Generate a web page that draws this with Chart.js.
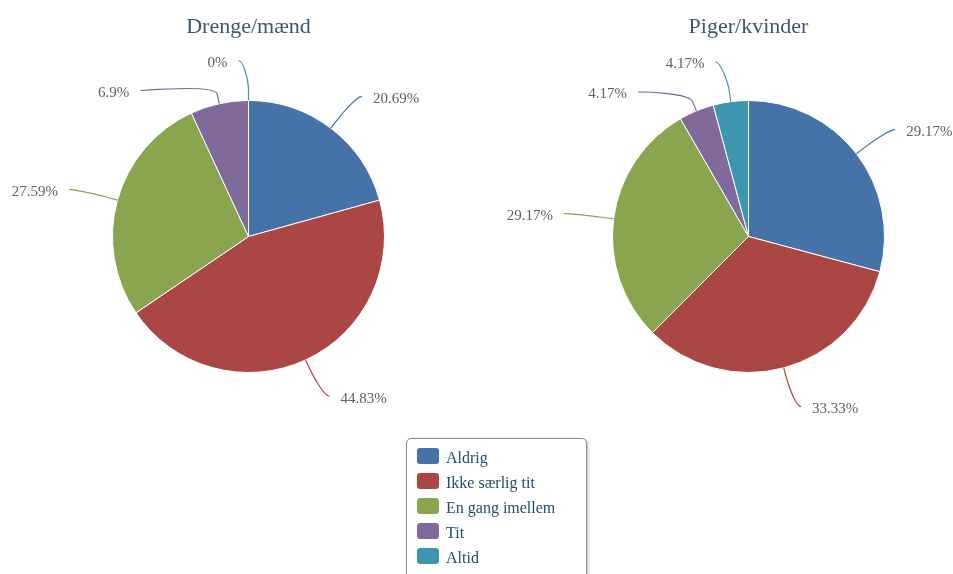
<!DOCTYPE html>
<html>
<head>
<meta charset="utf-8">
<script src="https://cdn.jsdelivr.net/npm/chart.js@4.4.0/dist/chart.umd.min.js"></script>
<style>
html,body{margin:0;padding:0;background:#fff;overflow:hidden;width:953px;height:574px;}
#wrap{position:relative;width:953px;height:574px;overflow:hidden;}
canvas{position:absolute;top:0;}
#c1{left:0;}
#c2{left:476px;}
#legend{position:absolute;left:406px;top:438px;width:179px;height:160px;border:1px solid #909090;border-radius:5px;box-shadow:1px 1px 3px rgba(0,0,0,0.28);background:#fff;font-family:"Liberation Serif","Times New Roman",serif;font-size:16px;color:#274b6d;}
.item{position:absolute;left:10px;height:16px;line-height:16px;white-space:nowrap;}
.sw{position:absolute;left:0;top:0;width:22px;height:16px;border-radius:3px;}
.tx{position:absolute;left:29px;top:2px;}
</style>
</head>
<body>
<div id="wrap">
  <canvas id="c1" width="476" height="437"></canvas>
  <canvas id="c2" width="477" height="437"></canvas>
  <div id="legend"></div>
</div>
<script>
// ---- data ----
const categories = ['Aldrig', 'Ikke særlig tit', 'En gang imellem', 'Tit', 'Altid'];
const boysValues = [20.69, 44.83, 27.59, 6.9, 0];
const girlsValues = [29.17, 33.33, 29.17, 4.17, 4.17];
const boysTitle = 'Drenge/mænd';
const girlsTitle = 'Piger/kvinder';
const colors = ['#4572A7', '#AA4643', '#89A54E', '#80699B', '#3D96AE'];

// ---- label + title plugin (Highcharts-like soft connectors) ----
const labelPlugin = {
  id: 'pieLabels',
  afterDatasetsDraw(chart, args, opts) {
    const ctx = chart.ctx;
    const meta = chart.getDatasetMeta(0);
    const ds = chart.data.datasets[0];
    const arcs = meta.data;
    if (!arcs.length) return;
    const cx = arcs[0].x, cy = arcs[0].y, r = arcs[0].outerRadius;
    const R = r + opts.distance;
    const items = arcs.map((a, i) => {
      const mid = (a.startAngle + a.endAngle) / 2;
      return { i, mid, left: mid > Math.PI / 2, y: cy + R * Math.sin(mid) };
    });
    [true, false].forEach(side => {
      const g = items.filter(it => it.left === side).sort((p, q) => p.y - q.y);
      for (let k = 1; k < g.length; k++) {
        if (g[k].y < g[k - 1].y + opts.gap) g[k].y = g[k - 1].y + opts.gap;
      }
    });
    ctx.save();
    items.forEach(it => {
      const cos = Math.cos(it.mid), sin = Math.sin(it.mid);
      const Cx = cx + r * cos, Cy = cy + r * sin;
      const Bx = cx + (r + 10) * cos, By = cy + (r + 10) * sin;
      const dy = it.y - cy;
      const dx = Math.sqrt(Math.max(R * R - dy * dy, 0));
      const xc = it.left ? cx - dx : cx + dx;
      const endX = it.left ? xc - 10 : xc + 7;
      const x1 = it.left ? endX + 5 : endX - 5;
      ctx.beginPath();
      ctx.moveTo(endX, it.y);
      ctx.bezierCurveTo(x1, it.y, 2 * Bx - Cx, 2 * By - Cy, Bx, By);
      ctx.lineTo(Cx, Cy);
      ctx.strokeStyle = ds.backgroundColor[it.i];
      ctx.lineWidth = 1.2;
      ctx.stroke();
      ctx.font = '15px "Liberation Serif", "Times New Roman", serif';
      ctx.fillStyle = '#606060';
      ctx.textBaseline = 'middle';
      ctx.textAlign = it.left ? 'right' : 'left';
      ctx.fillText(String(ds.data[it.i]) + '%', it.left ? endX - 11 : endX + 11, it.y + 2.5);
    });
    ctx.font = '22px "Liberation Serif", "Times New Roman", serif';
    ctx.fillStyle = '#3E576F';
    ctx.textAlign = 'center';
    ctx.textBaseline = 'middle';
    ctx.fillText(opts.title, cx, 27);
    ctx.restore();
  }
};

function makeChart(id, values, title, pad) {
  return new Chart(document.getElementById(id), {
    type: 'pie',
    data: {
      labels: categories,
      datasets: [{
        data: values,
        backgroundColor: colors,
        borderColor: '#ffffff',
        borderWidth: 1,
        radius: 136,
        hoverOffset: 0
      }]
    },
    options: {
      responsive: false,
      animation: false,
      events: [],
      layout: { padding: pad },
      plugins: {
        legend: { display: false },
        tooltip: { enabled: false },
        title: { display: false },
        pieLabels: { distance: 40, gap: 30, title: title }
      }
    },
    plugins: [labelPlugin]
  });
}

makeChart('c1', boysValues, boysTitle, { left: 98.5, right: 77.5, top: 86.5, bottom: 50.5 });
makeChart('c2', girlsValues, girlsTitle, { left: 122.5, right: 54.5, top: 86.5, bottom: 50.5 });

// ---- legend ----
const legend = document.getElementById('legend');
categories.forEach((c, i) => {
  const item = document.createElement('div');
  item.className = 'item';
  item.style.top = (9 + 25 * i) + 'px';
  const sw = document.createElement('span');
  sw.className = 'sw';
  sw.style.background = colors[i];
  const tx = document.createElement('span');
  tx.className = 'tx';
  tx.textContent = c;
  item.appendChild(sw);
  item.appendChild(tx);
  legend.appendChild(item);
});
</script>
</body>
</html>
